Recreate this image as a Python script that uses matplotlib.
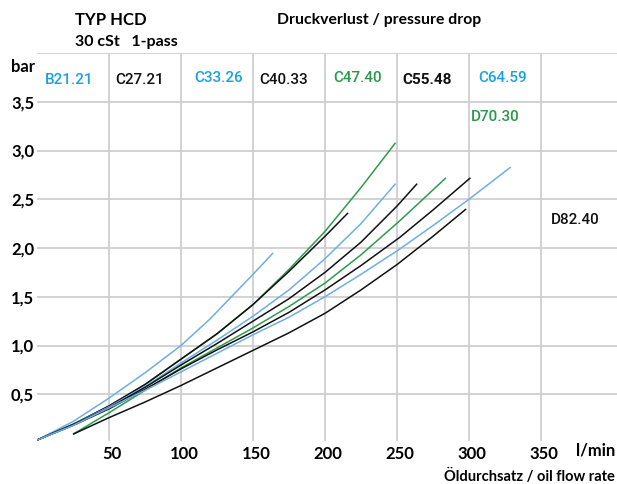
import matplotlib
matplotlib.use("Agg")
import matplotlib.pyplot as plt
import matplotlib.transforms as mtransforms

plt.rcParams['font.family'] = ['Lato', 'DejaVu Sans']

# ---- data ----
x_ticks = [50, 100, 150, 200, 250, 300, 350]
x_tick_labels = ["50", "100", "150", "200", "250", "300", "350"]
y_ticks = [0.5, 1.0, 1.5, 2.0, 2.5, 3.0, 3.5]
y_tick_labels = ["0,5", "1,0", "1,5", "2,0", "2,5", "3,0", "3,5"]

b21_x = [0, 25, 50, 75, 100, 120, 135, 150, 164]
b21_y = [0.03, 0.22, 0.46, 0.72, 1.00, 1.27, 1.50, 1.73, 1.95]

green1_x = [0, 25, 50, 75, 100, 125, 150, 175, 200, 225, 249]
green1_y = [0.03, 0.19, 0.38, 0.60, 0.86, 1.12, 1.42, 1.78, 2.17, 2.62, 3.08]

black1_x = [0, 25, 50, 75, 100, 125, 150, 175, 200, 216]
black1_y = [0.03, 0.19, 0.38, 0.60, 0.86, 1.12, 1.42, 1.76, 2.12, 2.36]

blue2_x = [0, 25, 50, 75, 100, 125, 150, 175, 200, 225, 249]
blue2_y = [0.03, 0.19, 0.37, 0.58, 0.82, 1.055, 1.30, 1.57, 1.89, 2.25, 2.66]

black3_x = [0, 25, 50, 75, 100, 125, 150, 175, 200, 225, 250, 264]
black3_y = [0.03, 0.19, 0.36, 0.57, 0.80, 1.02, 1.25, 1.48, 1.75, 2.06, 2.43, 2.66]

green2_x = [25, 50, 75, 100, 125, 150, 175, 200, 225, 252, 284]
green2_y = [0.09, 0.31, 0.54, 0.77, 0.975, 1.18, 1.40, 1.64, 1.93, 2.28, 2.72]

black4_x = [0, 25, 50, 75, 100, 125, 150, 175, 200, 225, 252, 275, 301]
black4_y = [0.03, 0.18, 0.35, 0.55, 0.76, 0.955, 1.14, 1.34, 1.57, 1.82, 2.11, 2.39, 2.72]

blue3_x = [0, 25, 50, 75, 100, 125, 150, 175, 200, 225, 250, 275, 300, 329]
blue3_y = [0.03, 0.18, 0.36, 0.54, 0.73, 0.92, 1.11, 1.29, 1.50, 1.73, 1.97, 2.23, 2.50, 2.83]

black5_x = [25, 50, 75, 100, 125, 150, 175, 200, 225, 250, 275, 298]
black5_y = [0.09, 0.26, 0.42, 0.59, 0.77, 0.95, 1.13, 1.33, 1.57, 1.83, 2.12, 2.40]

type_labels = ["B21.21", "C27.21", "C33.26", "C40.33", "C47.40", "C55.48", "C64.59", "D70.30", "D82.40"]

# ---- styles ----
BLUE_LINE = "#6fade6"
GREEN_LINE = "#2e9a4e"
BLACK = "#111111"
BLUE_TXT = "#1ba0e2"
GREEN_TXT = "#2a9a4a"
GRID = "#cfcfcf"

W, H = 617, 484
fig = plt.figure(figsize=(W / 100, H / 100), dpi=100)

def fx(px):
    return px / W

def fy(py):
    return 1 - py / H

x0_px, x50_px = 37, 109
y0_px, y4_px = 443, 53
xmax = (W - x0_px) / (x50_px - x0_px) * 50
ax = fig.add_axes([fx(x0_px), fy(y0_px), (W - x0_px) / W, (y0_px - y4_px) / H])
ax.set_xlim(0, xmax)
ax.set_ylim(0, 4.0)
for s in ax.spines.values():
    s.set_visible(False)

for yv in y_ticks + [4.0]:
    ax.axhline(yv, color=GRID, lw=1.3, zorder=0)
for xv in x_ticks:
    ax.plot([xv, xv], [0.03, 4.0], color=GRID, lw=1.3, zorder=0)

ax.set_xticks(x_ticks)
ax.set_xticklabels(x_tick_labels, fontsize=12, fontweight='bold')
ax.set_yticks(y_ticks)
ax.set_yticklabels(y_tick_labels, fontsize=12, fontweight='bold')
ax.tick_params(axis='both', length=0)
ax.tick_params(axis='x', pad=2)
ax.tick_params(axis='y', pad=2)
shift = mtransforms.ScaledTranslation(3 / 100, 0, fig.dpi_scale_trans)
for lbl in ax.get_xticklabels():
    lbl.set_transform(lbl.get_transform() + shift)

lw = 1.1
curves = [
    (b21_x, b21_y, BLUE_LINE),
    (green1_x, green1_y, GREEN_LINE),
    (black1_x, black1_y, BLACK),
    (blue2_x, blue2_y, BLUE_LINE),
    (black3_x, black3_y, BLACK),
    (green2_x, green2_y, GREEN_LINE),
    (black4_x, black4_y, BLACK),
    (blue3_x, blue3_y, BLUE_LINE),
    (black5_x, black5_y, BLACK),
]
for xs, ys, c in curves:
    ax.plot(xs, ys, color=c, lw=lw, solid_capstyle='butt', solid_joinstyle='round', zorder=3)

# ---- texts ----
fig.text(fx(75), fy(20), "TYP HCD", fontsize=12, fontweight='bold', ha='left', va='center')
fig.text(fx(75), fy(42), "30 cSt   1-pass", fontsize=11.5, fontweight='bold', ha='left', va='center')
fig.text(fx(277), fy(20), "Druckverlust / pressure drop", fontsize=11.3, fontweight='bold', ha='left', va='center')
fig.text(fx(35), fy(67), "bar", fontsize=12, fontweight='bold', ha='right', va='center')
fig.text(fx(615), fy(451), "l/min", fontsize=12, fontweight='bold', ha='right', va='center')
fig.text(fx(615), fy(476), "Öldurchsatz / oil flow rate", fontsize=10.5, fontweight='bold', ha='right', va='center')

label_pos = [(69, 80), (140, 80), (219, 78), (284, 80), (358, 78), (427, 80), (503, 78), (495, 117), (575, 220)]
label_col = [BLUE_TXT, BLACK, BLUE_TXT, BLACK, GREEN_TXT, BLACK, BLUE_TXT, GREEN_TXT, BLACK]
label_wt = ['medium'] * 5 + ['bold'] + ['medium'] * 3
for t, (px, py), c, wt in zip(type_labels, label_pos, label_col, label_wt):
    fig.text(fx(px), fy(py), t, fontsize=11, color=c, fontweight=wt, ha='center', va='center',
             family=['Roboto', 'DejaVu Sans'])

fig.savefig("out.png", dpi=100)
